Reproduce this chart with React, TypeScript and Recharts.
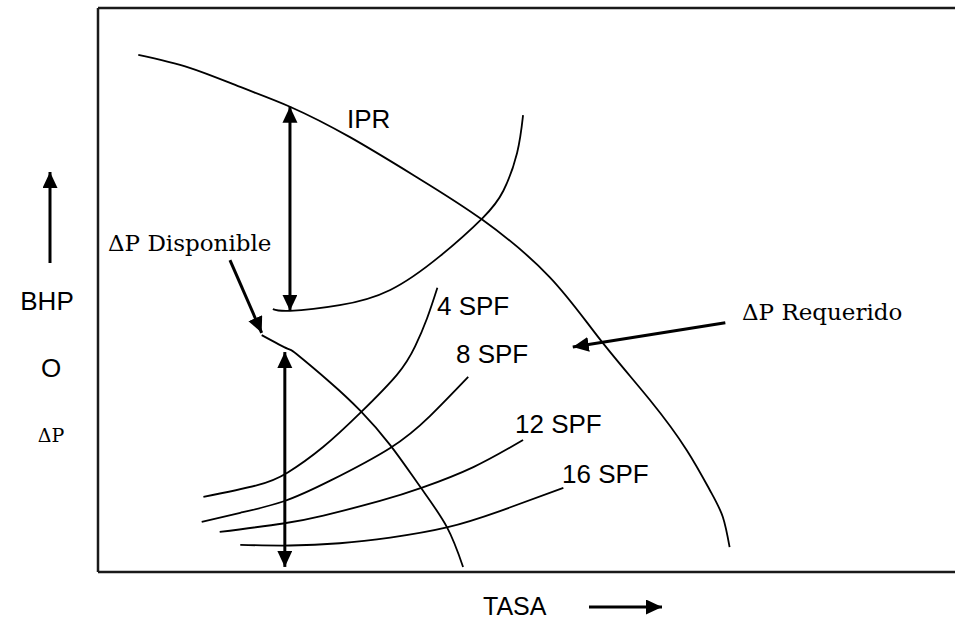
import { LineChart, Line, XAxis, YAxis, ReferenceLine } from 'recharts';

// caudal (q) en % del ancho, presión (p) en % de la altura del recuadro
const ipr = [
  { q: 4.7, p: 91.7 }, { q: 10.7, p: 89.4 }, { q: 16.6, p: 86.0 }, { q: 22.4, p: 82.5 },
  { q: 29.4, p: 77.1 }, { q: 37.2, p: 70.0 }, { q: 44.9, p: 62.4 }, { q: 52.7, p: 52.3 },
  { q: 58.6, p: 41.2 }, { q: 64.4, p: 30.5 }, { q: 68.7, p: 21.6 }, { q: 71.4, p: 14.5 },
  { q: 72.9, p: 9.8 }, { q: 73.7, p: 4.4 },
];
const tubing = [
  { q: 20.4, p: 46.6 }, { q: 22.4, p: 46.3 }, { q: 28.2, p: 47.3 }, { q: 34.1, p: 50.0 },
  { q: 39.9, p: 56.0 }, { q: 44.9, p: 62.8 }, { q: 47.3, p: 67.6 }, { q: 48.9, p: 74.3 },
  { q: 49.6, p: 81.0 },
];
const disponible = [
  { q: 19.1, p: 42.0 }, { q: 22.1, p: 39.6 }, { q: 23.2, p: 38.6 }, { q: 27.1, p: 33.6 },
  { q: 30.6, p: 28.6 }, { q: 34.1, p: 22.5 }, { q: 37.6, p: 15.1 }, { q: 40.7, p: 8.0 },
  { q: 42.6, p: 0.9 },
];
const spf4 = [
  { q: 12.3, p: 13.3 }, { q: 18.6, p: 15.4 }, { q: 22.1, p: 17.6 }, { q: 26.3, p: 22.2 },
  { q: 30.6, p: 28.2 }, { q: 34.9, p: 35.0 }, { q: 37.0, p: 40.0 }, { q: 38.4, p: 45.0 },
  { q: 39.6, p: 50.4 },
];
const spf8 = [
  { q: 12.1, p: 8.9 }, { q: 16.6, p: 10.5 }, { q: 21.6, p: 12.5 }, { q: 27.1, p: 16.2 },
  { q: 34.1, p: 22.0 }, { q: 38.7, p: 27.6 }, { q: 43.2, p: 34.6 },
];
const spf12 = [
  { q: 14.2, p: 7.1 }, { q: 21.6, p: 8.6 }, { q: 26.3, p: 10.0 }, { q: 32.9, p: 12.6 },
  { q: 37.9, p: 15.0 }, { q: 43.8, p: 18.6 }, { q: 49.6, p: 23.4 },
];
const spf16 = [
  { q: 16.6, p: 4.8 }, { q: 22.4, p: 4.7 }, { q: 28.2, p: 5.1 }, { q: 34.1, p: 6.1 },
  { q: 40.7, p: 7.9 }, { q: 46.9, p: 10.8 }, { q: 54.3, p: 14.9 },
];
const curves = [ipr, tubing, disponible, spf4, spf8, spf12, spf16];

// flechas de diferencia de presión y de señalamiento
const flechaDisponibleArriba = [{ x: 22.4, y: 46.3 }, { x: 22.4, y: 82.5 }];
const flechaDisponibleAbajo = [{ x: 21.8, y: 0.9 }, { x: 21.8, y: 39.0 }];
const punteroDisponible = [{ x: 15.4, y: 55.3 }, { x: 19.1, y: 42.4 }];
const punteroRequerido = [{ x: 73.2, y: 44.2 }, { x: 55.4, y: 39.9 }];

const sans = '"Liberation Sans", Arial, sans-serif';
const serif = '"DejaVu Serif", serif';

export default function App() {
  return (
    <div style={{ position: 'fixed', left: 0, top: 0, width: 955, height: 624, background: '#fff' }}>
      <LineChart width={955} height={624} margin={{ top: 8, left: 98, right: 0, bottom: 52 }}>
        <XAxis type="number" dataKey="q" domain={[0, 100]} hide />
        <YAxis type="number" domain={[0, 100]} hide />
        <ReferenceLine x={0} stroke="#1a1a1a" strokeWidth={2.5} />
        <ReferenceLine y={0} stroke="#1a1a1a" strokeWidth={2.5} />
        <ReferenceLine y={100} stroke="#1a1a1a" strokeWidth={2.5} />
        {curves.map((d, i) => (
          <Line
            key={i}
            data={d}
            dataKey="p"
            type="natural"
            stroke="#000"
            strokeWidth={1.8}
            dot={false}
            isAnimationActive={false}
          />
        ))}
        <ReferenceLine segment={flechaDisponibleArriba} stroke="#000" strokeWidth={3}
          markerStart="url(#head)" markerEnd="url(#head)" ifOverflow="visible" />
        <ReferenceLine segment={flechaDisponibleAbajo} stroke="#000" strokeWidth={3}
          markerStart="url(#head)" markerEnd="url(#head)" ifOverflow="visible" />
        <ReferenceLine segment={punteroDisponible} stroke="#000" strokeWidth={3}
          markerEnd="url(#head)" ifOverflow="visible" />
        <ReferenceLine segment={punteroRequerido} stroke="#000" strokeWidth={3}
          markerEnd="url(#head)" ifOverflow="visible" />
      </LineChart>
      <svg
        width={955}
        height={624}
        style={{ position: 'absolute', left: 0, top: 0, pointerEvents: 'none' }}
      >
        <defs>
          <marker id="head" markerUnits="userSpaceOnUse" markerWidth={17} markerHeight={16}
            refX={16} refY={7.5} orient="auto-start-reverse" viewBox="0 0 17 16">
            <path d="M0,0 L16,7.5 L0,15 z" fill="#000" />
          </marker>
        </defs>
        <g fill="#000" fontFamily={sans} fontSize={26}>
          <text x={347} y={128}>IPR</text>
          <text x={437} y={315}>4 SPF</text>
          <text x={456} y={363}>8 SPF</text>
          <text x={515} y={433}>12 SPF</text>
          <text x={562} y={483}>16 SPF</text>
          <text x={47} y={310} textAnchor="middle">BHP</text>
          <text x={51} y={377} textAnchor="middle">O</text>
          <text x={483} y={615} fontSize={25}>TASA</text>
        </g>
        <g fill="#000" fontFamily={serif} fontSize={23}>
          <text x={108} y={251}>ΔP Disponible</text>
          <text x={742} y={320}>ΔP Requerido</text>
          <text x={51} y={442} textAnchor="middle" fontSize={19}>ΔP</text>
        </g>
        <line x1={50} y1={263} x2={50} y2={172} stroke="#000" strokeWidth={3} markerEnd="url(#head)" />
        <line x1={589} y1={607} x2={662} y2={607} stroke="#000" strokeWidth={3} markerEnd="url(#head)" />
      </svg>
    </div>
  );
}
